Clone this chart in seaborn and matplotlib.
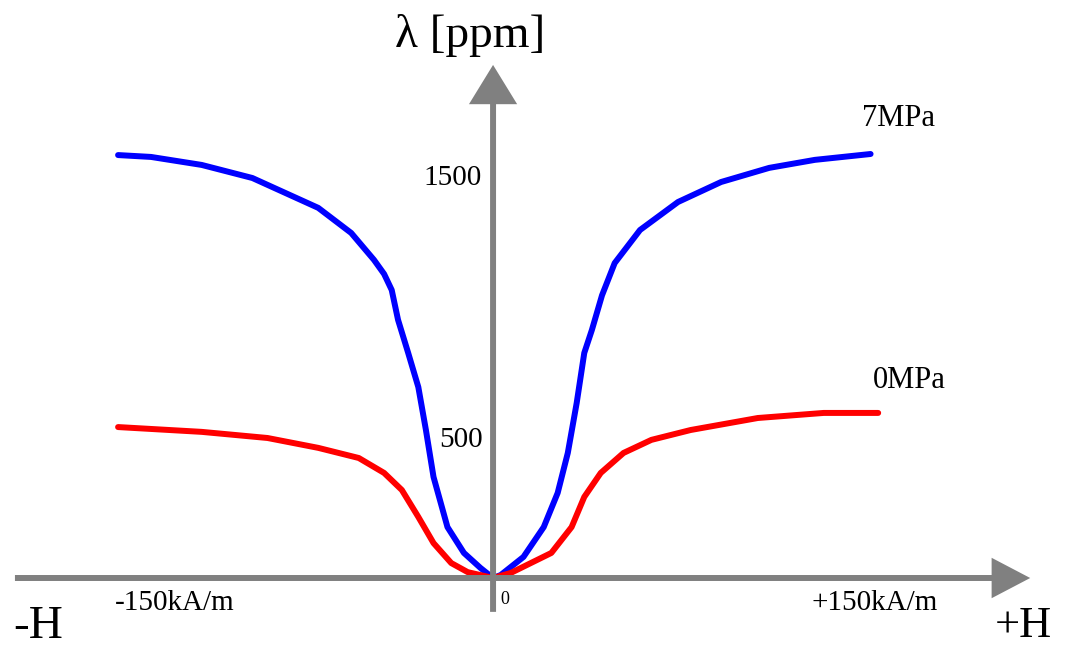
import numpy as np
import matplotlib
matplotlib.use("Agg")
import matplotlib.pyplot as plt
import seaborn as sns

# magnetostriction curves (H in kA/m, lambda in ppm)
h_7mpa = [-148, -135, -115, -95, -82, -69, -56, -47, -43, -40, -37.5, -33.5, -29.5,
          -26.5, -23.5, -18, -11.5, -5, 0, 3, 12, 20, 25.5, 29.5, 33, 36, 39,
          43, 48, 58, 73, 90, 109, 127, 149]
lam_7mpa = [1586, 1579, 1549, 1500, 1444, 1388, 1294, 1193, 1140, 1080, 968, 844, 716,
            555, 379, 191, 94, 38, 0, 11, 79, 191, 319, 469, 656, 844, 930,
            1060, 1181, 1305, 1410, 1485, 1538, 1568, 1590]

h_0mpa = [-148, -115, -89, -69, -53, -43, -36, -29.5, -23.5, -16.5, -10, 0,
          7, 23, 31, 36, 42.5, 51.5, 62.5, 78, 104.5, 130.5, 152]
lam_0mpa = [566, 548, 525, 488, 450, 394, 330, 229, 131, 56, 22, 0,
            19, 94, 191, 304, 394, 469, 518, 555, 600, 619, 619]

curve_labels = ["7MPa", "0MPa"]
tick_labels_y = ["1500", "500"]
tick_labels_x = ["-150kA/m", "+150kA/m"]

sns.set_style("white")
plt.rcParams["font.family"] = ["Liberation Serif", "DejaVu Serif"]
plt.rcParams["text.color"] = "black"

fig = plt.figure(figsize=(10.71, 6.47), dpi=100)
ax = fig.add_axes([0, 0, 1, 1])
ax.set_xlim(-194.6, 228.1)
ax.set_ylim(-258.75, 2167.5)
ax.axis("off")

gray = "#808080"
# axes drawn as arrows
ax.annotate("", xy=(212, 0), xytext=(-188.7, 0),
            arrowprops=dict(arrowstyle="-|>,head_length=2.1,head_width=1.1",
                            mutation_scale=10, lw=4.3, color=gray,
                            joinstyle="miter", capstyle="butt",
                            shrinkA=0, shrinkB=0))
ax.annotate("", xy=(0, 1924), xytext=(0, -127),
            arrowprops=dict(arrowstyle="-|>,head_length=2.2,head_width=1.35",
                            mutation_scale=10, lw=4.3, color=gray,
                            joinstyle="miter", capstyle="butt",
                            shrinkA=0, shrinkB=0))

sns.lineplot(x=h_7mpa, y=lam_7mpa, color="#0000ff", linewidth=4.3, ax=ax)
sns.lineplot(x=h_0mpa, y=lam_0mpa, color="#ff0000", linewidth=4.3, ax=ax)

# labels
ax.text(-9.1, 2036, "λ [ppm]", fontsize=34, ha="center", va="center")
ax.text(-4.3, 1500, tick_labels_y[0], fontsize=21, ha="right", va="center")
ax.text(-3.9, 517, tick_labels_y[1], fontsize=21, ha="right", va="center")
ax.text(2.8, -79, "0", fontsize=13, ha="left", va="center")
ax.text(-125.5, -94, tick_labels_x[0], fontsize=21, ha="center", va="center")
ax.text(150.4, -94, tick_labels_x[1], fontsize=21, ha="center", va="center")
ax.text(-189.5, -184, "-H", fontsize=34, ha="left", va="center")
ax.text(198, -180, "+H", fontsize=32, ha="left", va="center")
ax.text(145.7, 1725, curve_labels[0], fontsize=22, ha="left", va="center")
ax.text(150, 742, curve_labels[1], fontsize=22, ha="left", va="center")

fig.savefig("out.png", dpi=100)
plt.close()
